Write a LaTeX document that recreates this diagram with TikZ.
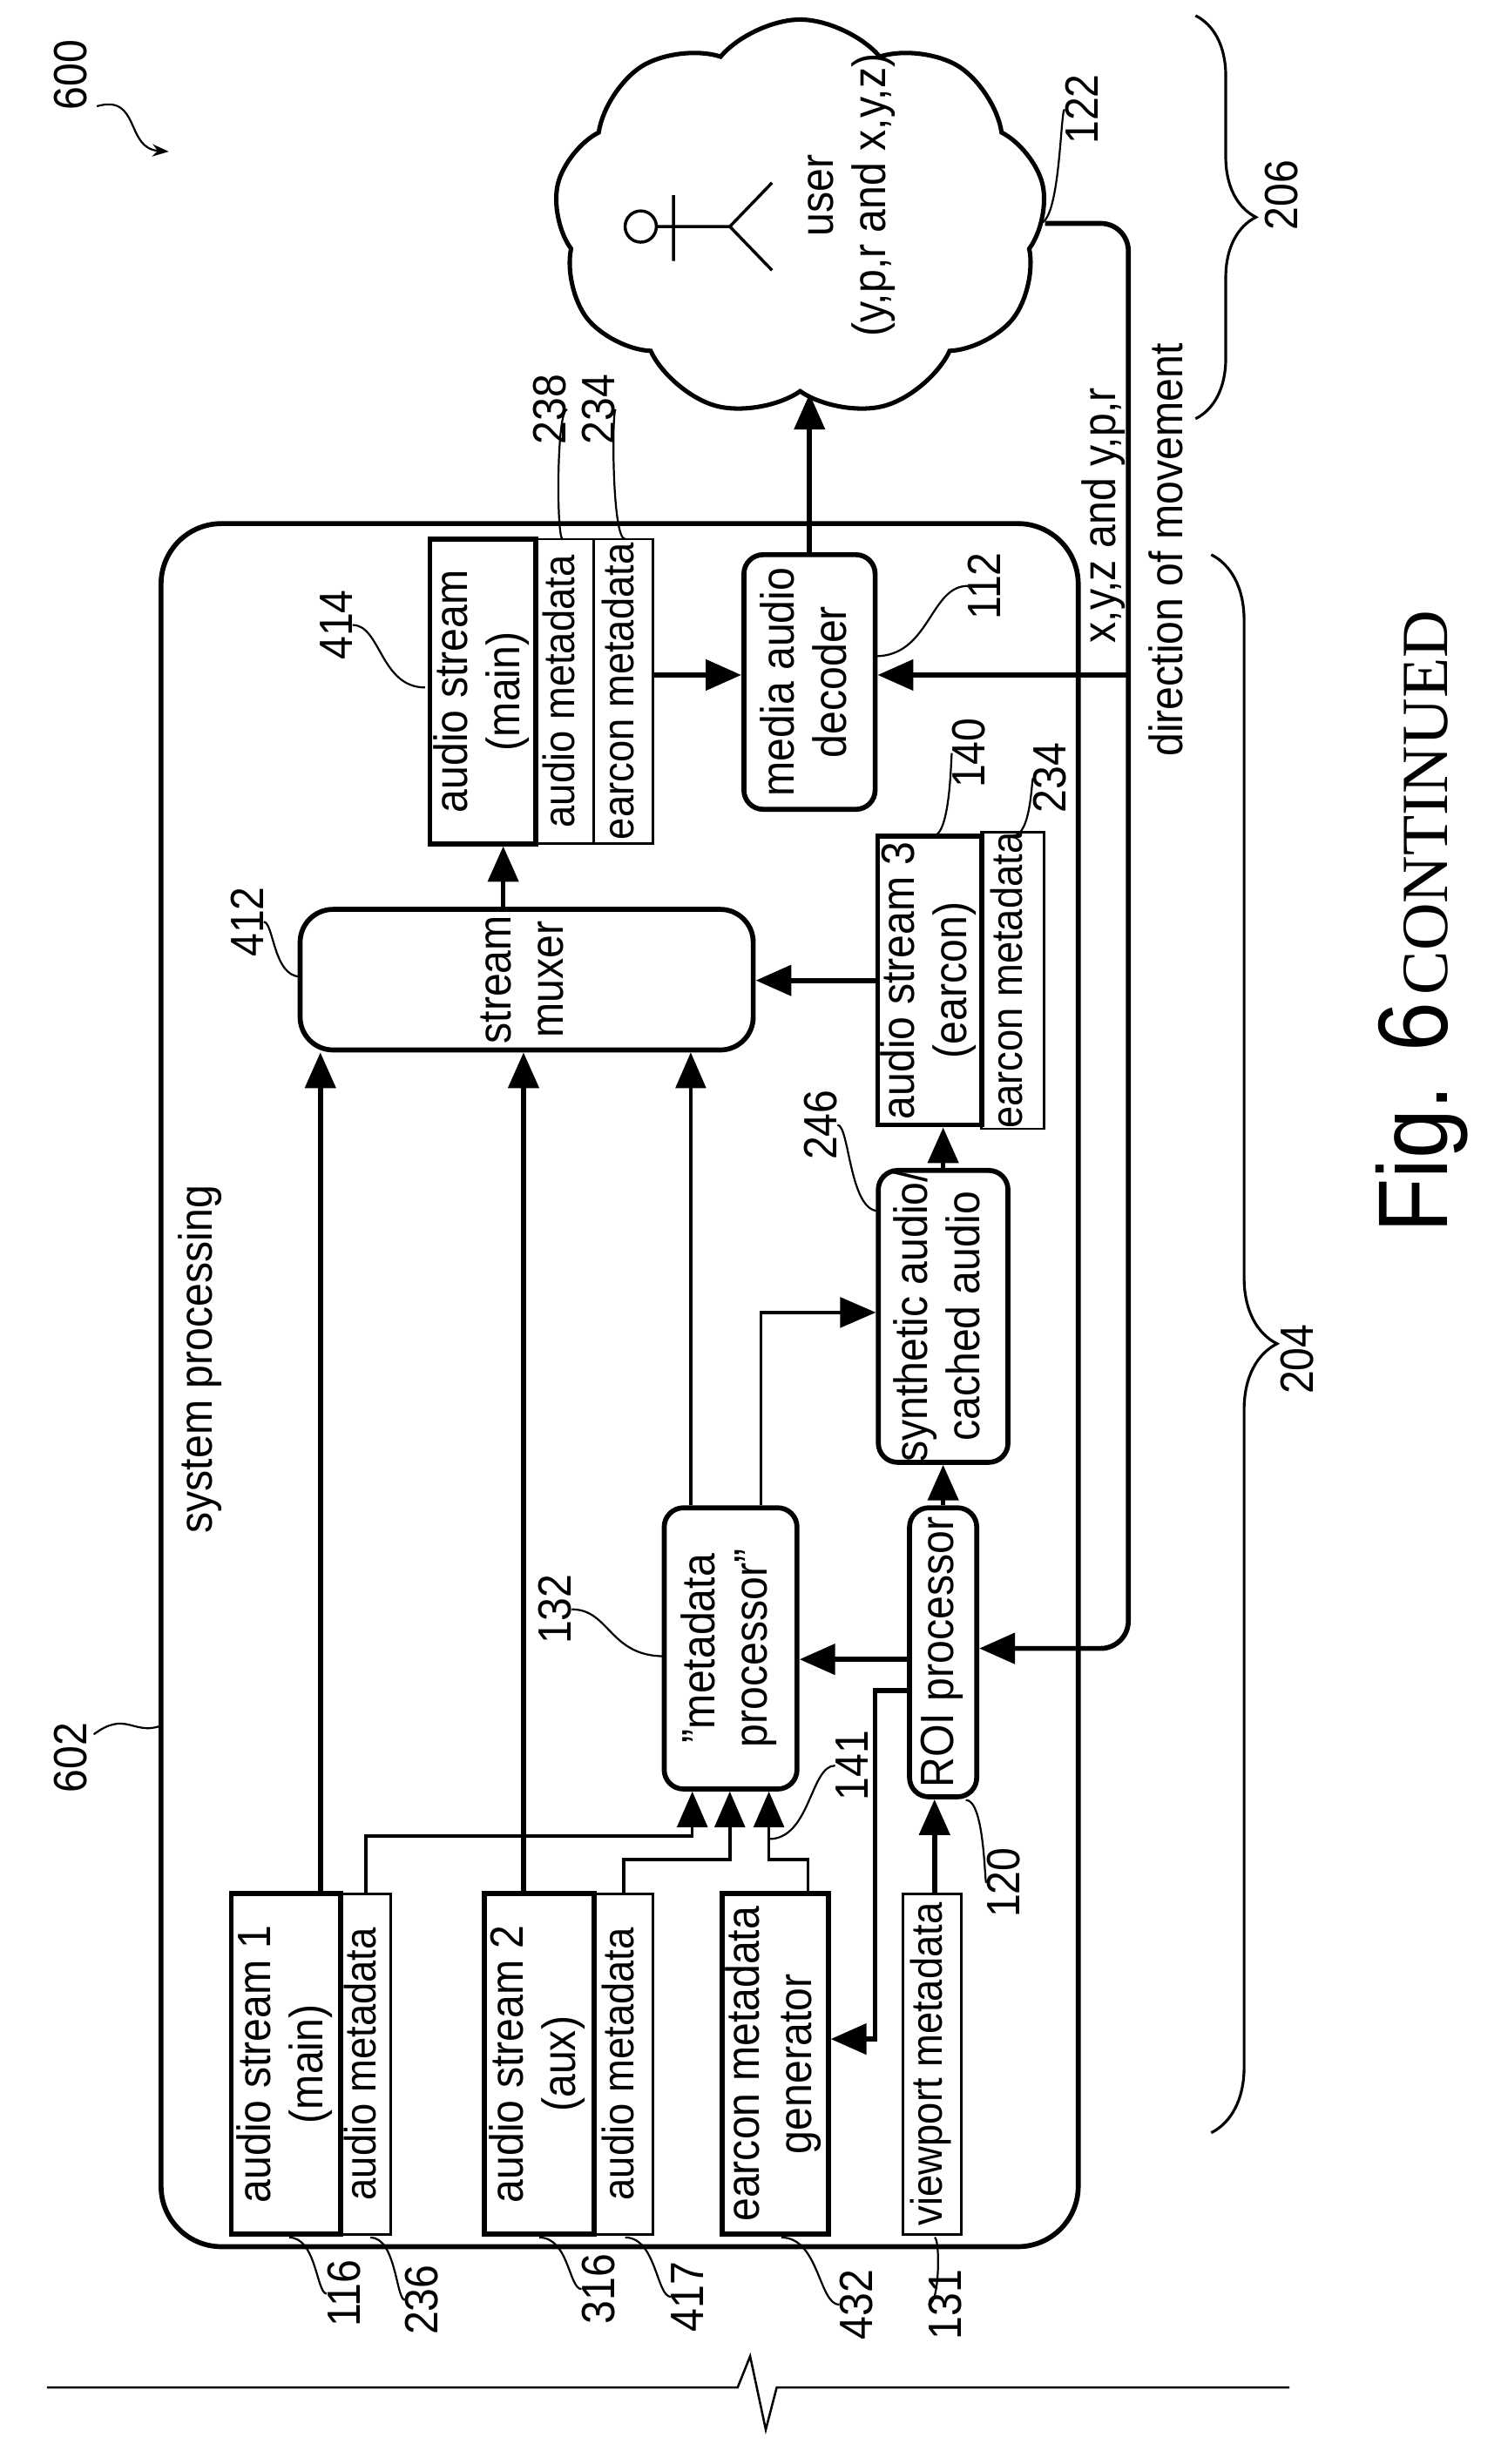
\documentclass[tikz,border=0pt]{standalone}
\usepackage{fontspec}
\setmainfont{Liberation Sans}[FakeStretch=0.9]
\newfontfamily\lmr{Liberation Serif}
\usetikzlibrary{shapes.symbols,decorations.pathreplacing,arrows.meta,calc}
\newcommand\rt[1]{\rotatebox{90}{\begin{tabular}{@{}c@{}}#1\end{tabular}}}
\begin{document}
\begin{tikzpicture}[x=0.02cm,y=-0.02cm,
  every node/.style={font=\fontsize{17}{19}\selectfont, inner sep=0pt},
  box/.style={draw, line width=1.8pt},
  rbox/.style={box, rounded corners=7pt},
  mbox/.style={draw, line width=0.9pt, font=\fontsize{16}{18}\selectfont},
  thk/.style={line width=1.8pt},
  thn/.style={line width=1.1pt},
  arr/.style={-{Triangle[length=13pt,width=11pt]}},
  lead/.style={line width=0.7pt},
  lbl/.style={rotate=90}]
\useasboundingbox (0,0) rectangle (960,1577);
% outer
\node[rbox, rounded corners=22pt, minimum width=11.74cm, minimum height=22.06cm] (outer) at (396.5,886.5) {};
\node[lbl] (sp) at (128,870) {system processing};
% left column
\node[box, minimum width=1.4cm, minimum height=4.36cm] (s1) at (183,1321) {\rt{audio stream 1\\(main)}};
\node[mbox, minimum width=0.64cm, minimum height=4.36cm] (m1) at (234,1321) {\rt{audio metadata}};
\node[box, minimum width=1.4cm, minimum height=4.36cm] (s2) at (345,1321) {\rt{audio stream 2\\(aux)}};
\node[mbox, minimum width=0.76cm, minimum height=4.36cm] (m2) at (399,1321) {\rt{audio metadata}};
\node[box, minimum width=1.36cm, minimum height=4.36cm] (gen) at (496,1321) {\rt{earcon metadata\\generator}};
\node[mbox, minimum width=0.74cm, minimum height=4.36cm] (vp) at (596.5,1321) {\rt{viewport metadata}};
% processors
\node[rbox, minimum width=1.7cm, minimum height=3.6cm] (mp) at (467.5,1055) {\rt{''metadata\\processor''}};
\node[rbox, minimum width=0.86cm, minimum height=3.7cm] (roi) at (603.5,1057.5) {\rt{ROI processor}};
\node[rbox, minimum width=1.66cm, minimum height=3.7cm] (syn) at (603.5,842.5) {\rt{synthetic audio/\\cached audio}};
\node[box, minimum width=1.32cm, minimum height=3.7cm] (s3) at (595,627.5) {\rt{audio stream 3\\(earcon)}};
\node[mbox, minimum width=0.8cm, minimum height=3.7cm] (m3) at (648,627.5) {\rt{earcon metadata}};
\node[rbox, rounded corners=12pt, minimum width=5.8cm, minimum height=1.8cm] (mux) at (337,627) {\rt{stream\\muxer}};
\node[box, minimum width=1.36cm, minimum height=3.9cm] (top) at (309,442.5) {\rt{audio stream\\(main)}};
\node[mbox, minimum width=0.74cm, minimum height=3.9cm] (tam) at (361.5,442.5) {\rt{audio metadata}};
\node[mbox, minimum width=0.76cm, minimum height=3.9cm] (tem) at (399,442.5) {\rt{earcon metadata}};
\node[rbox, minimum width=1.68cm, minimum height=3.26cm] (dec) at (518,436.5) {\rt{media audio\\decoder}};
% cloud
\node[cloud, draw, line width=1.6pt, cloud puffs=9, cloud puff arc=100, aspect=1.2, minimum width=6.3cm, minimum height=5.1cm] (cl) at (512,140) {};
\node[lbl] (usr) at (543,125) {\begin{tabular}{@{}c@{}}user\\(y,p,r and x,y,z)\end{tabular}};
\draw[thn] (410,145) circle (10);
\draw[thn] (420,145) -- (467,145) (431,125) -- (431,167) (494,117) -- (467,145) -- (494,173);
% connectors
\draw[thk,arr] (s1.north -| 205,0) -- (mux.south -| 205,0);
\draw[thk,arr] (s2.north -| 335,0) -- (mux.south -| 335,0);
\draw[thn,arr] (mp.north -| 442,0) -- (mux.south -| 442,0);
\draw[thn,arr] (mp.north -| 487,0) |- (syn.west |- 0,840);
\draw[thn,arr] (m1.north) |- (443,1175) -- (mp.south -| 443,0);
\draw[thn,arr] (m2.north) |- (467,1190) -- (mp.south -| 467,0);
\draw[thn,arr] (gen.north -| 517,0) |- (492,1190) -- (mp.south -| 492,0);
\draw[thk,arr] (roi.west |- 0,1062) -- (mp.east |- 0,1062);
\draw[thk,arr] (roi.west |- 0,1082) -| (560,1305) -- (gen.east |- 0,1305);
\draw[thk,arr] (vp.north -| 598,0) -- (roi.south -| 598,0);
\draw[thk,arr] (roi.north) -- (syn.south);
\draw[thk,arr] (syn.north) -- (s3.south -| syn.north);
\draw[thk,arr] (s3.west) -- (mux.east |- s3.west);
\draw[thk,arr] (mux.north -| 322,0) -- (top.south -| 322,0);
\draw[thk,arr] (tem.east |- 0,432) -- (dec.west |- 0,432);
\draw[thk,arr] (dec.north) -- (cl.south -| dec.north);
\draw[thk,arr,rounded corners=10pt] (cl.east |- 0,143) -- (722,143) -- (722,1055) -- (roi.east |- 0,1055);
\draw[thk,arr] (722,432) -- (dec.east |- 0,432);
\node[lbl] (t1) at (706,330) {x,y,z and y,p,r};
\node[lbl] (t2) at (746,352) {direction of movement};
% braces
\draw[line width=1pt, decorate, decoration={brace, amplitude=22pt}] (765,10) -- (765,268);
\draw[line width=1pt, decorate, decoration={brace, amplitude=24pt}] (775,355) -- (775,1365);
\node[lbl] (n206) at (820,125) {206};
\node[lbl] (n204) at (830,870) {204};
% labels
\node[lbl] (n600) at (45,48) {600};
\draw[lead, -{Stealth[length=6pt]}] (62,68) .. controls (90,60) and (80,95) .. (108,97);
\node[lbl] (n602) at (45,1125) {602};
\draw[lead] (60,1110) .. controls (80,1095) and (85,1110) .. (outer.west |- 0,1105);
\foreach \n/\lx/\ly/\tx/\ty in {116/220/1468/185/1432, 236/270/1472/237/1432, 316/383/1465/345/1432, 417/440/1470/400/1432, 432/548/1475/500/1432, 131/605/1475/598/1432, 120/642/1205/618/1152, 141/545/1130/492/1177, 132/355/1030/425/1060, 246/525/720/562/775, 412/158/590/192/625, 414/215/400/272/440, 238/352/262/360/345, 234/383/262/400/345, 140/620/482/597/535, 234/672/498/648/535, 112/630/375/560/420, 122/692/70/665/143}{
  \node[lbl] (L\n-\lx) at (\lx,\ly) {\n};
  \draw[lead] (L\n-\lx) .. controls ($(L\n-\lx)!0.5!(\tx,\ly)$) and ($(\tx,\ty)!0.5!(\lx,\ty)$) .. (\tx,\ty);
}
% fig
\node[lbl] (fig) at (910,590) {{\fontsize{36}{40}\selectfont Fig. 6}\,{\lmr\fontsize{24}{28}\selectfont CONTINUED}};
% break line
\coordinate (bl) at (30,1528); \coordinate (br) at (825,1528);
\draw[line width=0.8pt] (bl) -- (472,1528) -- (480,1508) -- (490,1555) -- (497,1528) -- (br);
\end{tikzpicture}
\end{document}
